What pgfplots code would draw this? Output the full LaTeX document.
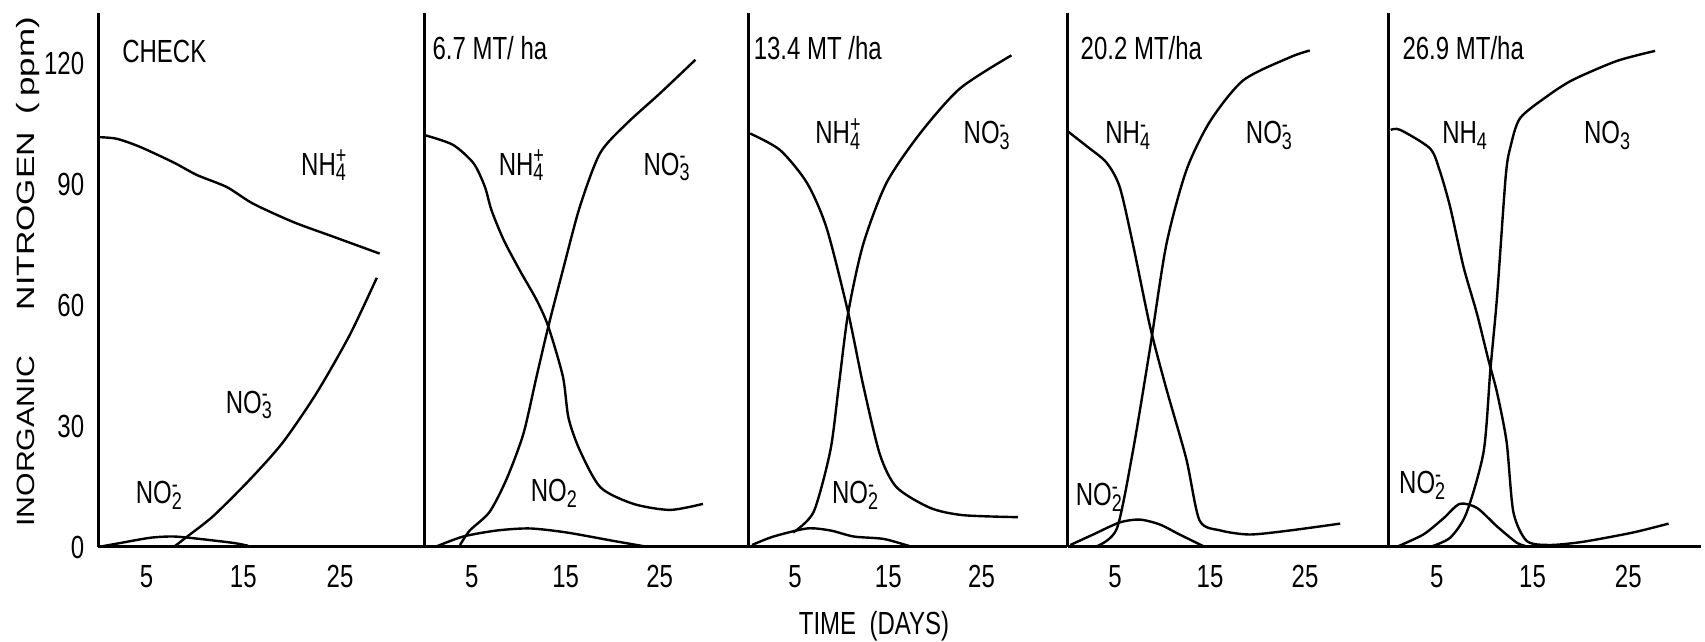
\documentclass[border=0pt]{standalone}
\usepackage{fontspec}
\usepackage{graphicx}
\setmainfont[FakeStretch=0.75]{Liberation Sans}
\newfontfamily\ylfont{Liberation Sans}
\usepackage{pgfplots}
\pgfplotsset{compat=1.18}
\newcommand\tf{\fontsize{8pt}{9.6pt}\selectfont}
\newcommand\yf{\ylfont\fontsize{6.25pt}{7.5pt}\selectfont}
\newcommand\ion[3]{#1\rlap{\textsuperscript{#3}}\textsubscript{#2}}
\tikzset{lab/.style={anchor=base west, inner sep=0pt, font=\tf},
         yl/.style={rotate=90, anchor=base, inner sep=0pt, font=\yf}}
\pgfplotsset{
  panel/.style={
    axis lines=left,
    axis line style={-, line width=0.75pt},
    enlargelimits=false,
    xmin=0, ymin=0, ymax=132.5,
    y=1.0075pt,
    xtick={5,15,25}, ytick=\empty,
    major tick length=0pt,
    tick style={draw=none},
    tick label style={font=\tf},
    xticklabel style={anchor=base, yshift=-10.25pt},
    /pgf/number format/assume math mode=true,
    clip=false,
    anchor=south west,
  },
  c/.style={black, line width=0.6pt, smooth, tension=0.45, mark=none},
}
\begin{document}
\begin{tikzpicture}
\useasboundingbox (0,-23.75pt) rectangle (426.25pt,136.75pt);
% Panel 1: CHECK
\begin{axis}[panel, x=2.4175pt, xmax=33.75, at={(24.575pt,0pt)}, ytick={0,30,60,90,120}]
\addplot[c] coordinates {(0,101.7)(1.9,101.3)(4.3,99.3)(7.8,95.4)(10.2,92.3)(13.3,89.3)(16.0,85.2)(20.2,80.6)(24.3,77.0)(29.1,72.8)};
\addplot[c] coordinates {(7.8,0)(9.2,2.6)(11.9,7.7)(15.7,16.8)(19.1,26)(22.6,38.3)(26.0,52.6)(28.8,66.8)};
\addplot[c] coordinates {(0,0)(2.3,1)(5.4,2.3)(7.8,2.6)(10.5,2)(14,1)(15.5,0.3)};
\node[lab] at (axis cs:2.4,120.1) {CHECK};
\node[lab] at (axis cs:20.9,92.3) {\ion{NH}{4}{+}};
\node[lab] at (axis cs:13.1,33.2) {\ion{NO}{3}{-}};
\node[lab] at (axis cs:3.8,10.7) {\ion{NO}{2}{-}};
\node[yl] at (axis cs:-6.55,26.3) {\scalebox{1.21}[1]{INORGANIC}};
\node[yl] at (axis cs:-6.55,80.9) {\scalebox{1.35}[1]{NITROGEN}};
\node[yl] at (axis cs:-6.55,119.5) {\scalebox{1.4}[1]{(\,ppm)}};
\end{axis}
% Panel 2
\begin{axis}[panel, x=2.35pt, xmax=34.43, at={(106.175pt,0pt)}]
\addplot[c] coordinates {(0,102.2)(3.0,99.8)(5.2,95.2)(6.4,89.4)(7.1,83.6)(8.4,76.2)(10.1,68.7)(11.9,61.3)(13.15,54.7)(14.7,42.3)(15.3,32)(16.5,24)(18.7,14.8)(22.2,10.7)(26.1,9.2)(29.6,10.7)};
\addplot[c] coordinates {(3.76,0.5)(4.8,4.1)(6.9,8.7)(8.7,16.8)(10.5,28.1)(11.9,42.3)(13.15,54.7)(14.7,68.7)(16.5,84.4)(18.65,97.7)(21.5,105.1)(25.0,112.5)(28.8,120.9)};
\addplot[c] coordinates {(1.1,0)(4.1,2.6)(7.7,4.1)(11.2,4.6)(15.1,3.6)(20.1,1.5)(23.3,0.2)};
\node[lab] at (axis cs:0.75,120.9) {6.7 MT/ ha};
\node[lab] at (axis cs:7.8,92.3) {\ion{NH}{4}{+}};
\node[lab] at (axis cs:23.2,92.3) {\ion{NO}{3}{-}};
\node[lab] at (axis cs:11.2,11.2) {NO\textsubscript{2}};
\end{axis}
% Panel 3
\begin{axis}[panel, x=2.3325pt, xmax=34.21, at={(187.075pt,0pt)}]
\addplot[c] coordinates {(0.2,102.6)(3.4,98.5)(6.3,90.3)(8.4,79.1)(10.7,58.2)(12.3,40.3)(14.1,23)(15.9,14.8)(19.5,9.7)(23.0,7.9)(28.9,7.4)};
\addplot[c] coordinates {(4.8,3.6)(7.0,8.7)(8.8,24)(9.7,40)(10.7,58)(12.3,75)(14.8,90.3)(18.4,102.6)(22.7,113.8)(28.2,122)};
\addplot[c] coordinates {(0.4,0.5)(2.7,2.6)(6.3,4.6)(8.8,4.1)(11.3,2.6)(14.5,2)(17.3,0.2)};
\node[lab] at (axis cs:0.5,120.9) {13.4 MT /ha};
\node[lab] at (axis cs:7.1,100) {\ion{NH}{4}{+}};
\node[lab] at (axis cs:23.0,100) {\ion{NO}{3}{-}};
\node[lab] at (axis cs:8.9,10.7) {\ion{NO}{2}{-}};
\node[anchor=base, inner sep=0pt, font=\tf] at (axis cs:13.47,-21.8) {TIME\ \ (DAYS)};
\end{axis}
% Panel 4
\begin{axis}[panel, x=2.375pt, xmax=33.83, at={(266.875pt,0pt)}]
\addplot[c] coordinates {(0.1,103)(2.0,99.5)(4.1,95.4)(5.5,89.3)(6.9,75)(8.7,54.6)(10.4,39.3)(12.5,21.9)(13.9,6.6)(16.1,4.1)(19.2,3.1)(23.4,4.1)(28.7,5.8)};
\addplot[c] coordinates {(3.1,0.2)(5.2,4.6)(6.9,24)(8.7,49.5)(10.4,75)(12.5,93.4)(15.0,105.6)(18.5,115.8)(23.4,121.5)(25.5,123.2)};
\addplot[c] coordinates {(0.3,0.5)(2.7,3.1)(5.5,6.1)(7.6,6.8)(9.7,5.6)(11.8,3.1)(14.3,0.2)};
\node[lab] at (axis cs:1.3,121) {20.2 MT/ha};
\node[lab] at (axis cs:3.9,100) {\ion{NH}{4}{-}};
\node[lab] at (axis cs:18.7,100) {\ion{NO}{3}{-}};
\node[lab] at (axis cs:0.8,10.2) {\ion{NO}{2}{-}};
\end{axis}
% Panel 5
\begin{axis}[panel, x=2.395pt, xmax=32.6, at={(347.2pt,0pt)}]
\addplot[c] coordinates {(0.2,103.5)(1.2,103.5)(4.3,98.9)(5.3,93.5)(6.4,84.4)(7.8,69.5)(9.2,57.9)(10.4,46.4)(11.3,38.3)(12.3,26)(13.0,8.7)(14.4,1.5)(16.8,0.5)(20.3,1.3)(25.5,3.6)(29.2,5.8)};
\addplot[c] coordinates {(4.3,0)(6.4,2.3)(8.1,8.4)(9.9,23.7)(10.6,43.9)(11.3,62.1)(12.2,91.9)(12.7,99.3)(13.7,106.4)(16.5,111.8)(19.2,115.9)(23.8,120.6)(27.8,123.1)};
\addplot[c] coordinates {(0.8,0)(3.6,3.1)(5.7,7.1)(7.4,10.7)(9.2,9.7)(11.3,5.1)(13.4,1.0)(14.7,0)};
\node[lab] at (axis cs:1.35,120.9) {26.9 MT/ha};
\node[lab] at (axis cs:5.5,100) {NH\textsubscript{4}};
\node[lab] at (axis cs:20.3,100) {NO\textsubscript{3}};
\node[lab] at (axis cs:1.0,13.3) {\ion{NO}{2}{-}};
\end{axis}
\end{tikzpicture}
\end{document}
